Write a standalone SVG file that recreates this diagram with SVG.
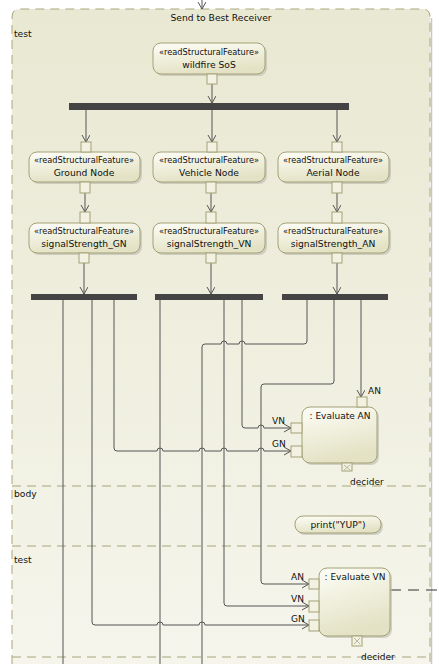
<svg xmlns="http://www.w3.org/2000/svg" width="439" height="664" viewBox="0 0 439 664">
<defs>
<linearGradient id="bg" x1="0" y1="0" x2="0" y2="1"><stop offset="0" stop-color="#e9e8d2"/><stop offset="1" stop-color="#f5f5ec"/></linearGradient>
<linearGradient id="nf" x1="0" y1="0" x2="0.3" y2="1"><stop offset="0" stop-color="#fdfdf7"/><stop offset="1" stop-color="#e3e2c4"/></linearGradient>
<marker id="ar" markerWidth="10" markerHeight="10" refX="7" refY="4" orient="auto" markerUnits="userSpaceOnUse"><path d="M0,0 L7,4 L0,8" fill="none" stroke="#555" stroke-width="1"/></marker>
<style>
.t{font-family:"DejaVu Sans","Liberation Sans",sans-serif;fill:#111}
.st{font-size:8.2px}
.nm{font-size:9.2px}
.lb{font-size:9px}
.node{fill:url(#nf);stroke:#a3a177;stroke-width:1}
.sh{fill:#b9b9ad;opacity:0.6}
.pin{fill:#f3f2e2;stroke:#a3a177;stroke-width:1}
.bar{fill:#444}
.ln{fill:none;stroke:#555;stroke-width:1}
.dash{fill:none;stroke:#a8a67c;stroke-width:1;stroke-dasharray:9,6}
</style>
</defs>
<rect width="439" height="664" fill="#ffffff"/>
<g id="frame">
<path d="M12,664 V17 Q12,9 20,9 H422 Q430,9 430,17 V664" fill="url(#bg)"/>
<path d="M431.5,18 V664" stroke="#c8c8c0" stroke-width="1.5"/>
<path d="M12,664 V17 Q12,9 20,9 H422 Q430,9 430,17 V664" class="dash"/>
<line x1="12" y1="486" x2="430" y2="486" class="dash"/>
<line x1="12" y1="546" x2="430" y2="546" class="dash"/>
<line x1="12" y1="657" x2="430" y2="657" class="dash"/>
<text x="221" y="21" class="t nm" text-anchor="middle">Send to Best Receiver</text>
<text x="14" y="37" class="t nm">test</text>
<text x="14" y="497" class="t nm">body</text>
<text x="14" y="563" class="t nm">test</text>
</g>
<g id="connectors">
<path d="M202,0 V9" class="ln" marker-end="url(#ar)"/>
<path d="M212,84 V103" class="ln" marker-end="url(#ar)"/>
<path d="M86,110 V142" class="ln" marker-end="url(#ar)"/>
<path d="M212,110 V142" class="ln" marker-end="url(#ar)"/>
<path d="M337,110 V142" class="ln" marker-end="url(#ar)"/>
<path d="M85,193 V212" class="ln" marker-end="url(#ar)"/>
<path d="M211,193 V212" class="ln" marker-end="url(#ar)"/>
<path d="M337,193 V212" class="ln" marker-end="url(#ar)"/>
<path d="M84,263 V294" class="ln" marker-end="url(#ar)"/>
<path d="M211,263 V294" class="ln" marker-end="url(#ar)"/>
<path d="M337,263 V294" class="ln" marker-end="url(#ar)"/>
<path d="M63,300 V664" class="ln"/>
<path d="M160,300 V664" class="ln"/>
<path d="M307,300 V341 Q307,344 304,344 H245 A3,3 0 0 0 239,344 H227 A3,3 0 0 0 221,344 H205 Q202,344 202,347 V664" class="ln"/>
<path d="M334,300 V381 Q334,384 331,384 H264 Q261,384 261,387 V581 Q261,584 264,584 H309" class="ln" marker-end="url(#ar)"/>
<path d="M361,300 V397" class="ln" marker-end="url(#ar)"/>
<path d="M242,300 V425 Q242,428 245,428 H258 A3,3 0 0 1 264,428 H291" class="ln" marker-end="url(#ar)"/>
<path d="M114,300 V448 Q114,451 117,451 H157 A3,3 0 0 1 163,451 H199 A3,3 0 0 1 205,451 H221 A3,3 0 0 1 227,451 H258 A3,3 0 0 1 264,451 H291" class="ln" marker-end="url(#ar)"/>
<path d="M224,300 V603 Q224,606 227,606 H309" class="ln" marker-end="url(#ar)"/>
<path d="M92,300 V622 Q92,625 95,625 H157 A3,3 0 0 1 163,625 H199 A3,3 0 0 1 205,625 H309" class="ln" marker-end="url(#ar)"/>
<path d="M390,590 H439" fill="none" stroke="#333" stroke-width="1" stroke-dasharray="11,7"/>
</g>
<g id="fork1"><rect x="69" y="103" width="280" height="7" class="bar"/></g>
<g id="forkGN"><rect x="31" y="294" width="106" height="6" class="bar"/></g>
<g id="forkVN"><rect x="155" y="294" width="108" height="6" class="bar"/></g>
<g id="forkAN"><rect x="282" y="294" width="106" height="6" class="bar"/></g>
<g id="wildfire">
<rect x="155" y="45" width="112" height="31" rx="8" class="sh"/>
<rect x="153" y="43" width="112" height="31" rx="8" class="node"/>
<text x="209" y="55" class="t st" text-anchor="middle">«readStructuralFeature»</text>
<text x="209" y="68" class="t nm" text-anchor="middle">wildfire SoS</text>
<rect x="207" y="74" width="10" height="10" class="pin"/>
</g>
<g id="ground">
<rect x="31" y="154" width="111" height="30" rx="8" class="sh"/>
<rect x="29" y="152" width="111" height="30" rx="8" class="node"/>
<text x="84" y="163" class="t st" text-anchor="middle">«readStructuralFeature»</text>
<text x="84" y="176" class="t nm" text-anchor="middle">Ground Node</text>
<rect x="81" y="142" width="10" height="10" class="pin"/>
<rect x="80" y="182" width="10" height="11" class="pin"/>
</g>
<g id="vehicle">
<rect x="155" y="154" width="112" height="30" rx="8" class="sh"/>
<rect x="153" y="152" width="112" height="30" rx="8" class="node"/>
<text x="209" y="163" class="t st" text-anchor="middle">«readStructuralFeature»</text>
<text x="209" y="176" class="t nm" text-anchor="middle">Vehicle Node</text>
<rect x="207" y="142" width="10" height="10" class="pin"/>
<rect x="206" y="182" width="10" height="11" class="pin"/>
</g>
<g id="aerial">
<rect x="280" y="154" width="111" height="30" rx="8" class="sh"/>
<rect x="278" y="152" width="111" height="30" rx="8" class="node"/>
<text x="333" y="163" class="t st" text-anchor="middle">«readStructuralFeature»</text>
<text x="333" y="176" class="t nm" text-anchor="middle">Aerial Node</text>
<rect x="332" y="142" width="10" height="10" class="pin"/>
<rect x="332" y="182" width="10" height="11" class="pin"/>
</g>
<g id="ssGN">
<rect x="31" y="225" width="111" height="30" rx="8" class="sh"/>
<rect x="29" y="223" width="111" height="30" rx="8" class="node"/>
<text x="84" y="234" class="t st" text-anchor="middle">«readStructuralFeature»</text>
<text x="84" y="247" class="t nm" text-anchor="middle">signalStrength_GN</text>
<rect x="80" y="212" width="10" height="11" class="pin"/>
<rect x="79" y="253" width="10" height="10" class="pin"/>
</g>
<g id="ssVN">
<rect x="155" y="225" width="112" height="30" rx="8" class="sh"/>
<rect x="153" y="223" width="112" height="30" rx="8" class="node"/>
<text x="209" y="234" class="t st" text-anchor="middle">«readStructuralFeature»</text>
<text x="209" y="247" class="t nm" text-anchor="middle">signalStrength_VN</text>
<rect x="206" y="212" width="10" height="11" class="pin"/>
<rect x="206" y="253" width="10" height="10" class="pin"/>
</g>
<g id="ssAN">
<rect x="280" y="225" width="111" height="30" rx="8" class="sh"/>
<rect x="278" y="223" width="111" height="30" rx="8" class="node"/>
<text x="333" y="234" class="t st" text-anchor="middle">«readStructuralFeature»</text>
<text x="333" y="247" class="t nm" text-anchor="middle">signalStrength_AN</text>
<rect x="332" y="212" width="10" height="11" class="pin"/>
<rect x="332" y="253" width="10" height="10" class="pin"/>
</g>
<g id="evalAN">
<rect x="304" y="409" width="75" height="56" rx="8" class="sh"/>
<rect x="302" y="407" width="75" height="56" rx="8" class="node"/>
<text x="340" y="419" class="t lb" text-anchor="middle">: Evaluate AN</text>
<rect x="357" y="397" width="10" height="10" class="pin"/>
<rect x="291" y="423" width="11" height="10" class="pin"/>
<rect x="291" y="446" width="11" height="11" class="pin"/>
<rect x="342" y="463" width="10" height="8" class="pin"/>
<path d="M344,465 L350,470 M350,465 L344,470" stroke="#b8b69a" stroke-width="1"/>
<text x="368" y="394" class="t lb">AN</text>
<text x="272" y="424" class="t lb">VN</text>
<text x="272" y="447" class="t lb">GN</text>
<text x="350" y="485" class="t lb">decider</text>
</g>
<g id="print">
<rect x="297" y="518" width="86" height="17" rx="8" class="sh"/>
<rect x="295" y="516" width="86" height="17" rx="8" class="node"/>
<text x="338" y="528" class="t nm" text-anchor="middle">print("YUP")</text>
</g>
<g id="evalVN">
<rect x="321" y="570" width="71" height="68" rx="8" class="sh"/>
<rect x="319" y="568" width="71" height="68" rx="8" class="node"/>
<text x="355" y="580" class="t lb" text-anchor="middle">: Evaluate VN</text>
<rect x="309" y="579" width="10" height="10" class="pin"/>
<rect x="309" y="601" width="10" height="11" class="pin"/>
<rect x="309" y="620" width="10" height="11" class="pin"/>
<rect x="352" y="636" width="10" height="10" class="pin"/>
<path d="M354,638 L360,644 M360,638 L354,644" stroke="#b8b69a" stroke-width="1"/>
<text x="291" y="580" class="t lb">AN</text>
<text x="291" y="602" class="t lb">VN</text>
<text x="291" y="622" class="t lb">GN</text>
<text x="361" y="660" class="t lb">decider</text>
</g>
</svg>
